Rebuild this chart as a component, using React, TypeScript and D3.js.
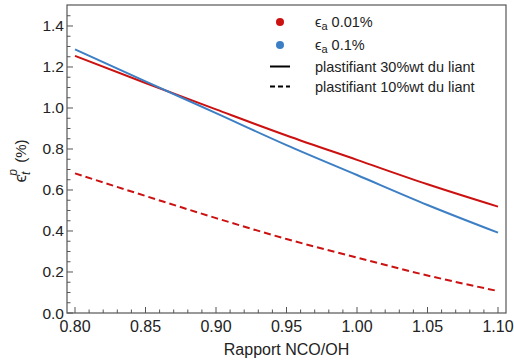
import React from "react";
import * as d3 from "d3";

const ratios = [0.8, 0.85, 0.9, 0.95, 1.0, 1.05, 1.1];
const red30 = [1.254, 1.122, 0.993, 0.866, 0.747, 0.628, 0.519];
const blue30 = [1.286, 1.13, 0.975, 0.819, 0.673, 0.527, 0.392];
const red10 = [0.681, 0.571, 0.463, 0.361, 0.27, 0.183, 0.107];
const xTicks = [0.8, 0.85, 0.9, 0.95, 1.0, 1.05, 1.1];
const yTicks = [0, 0.2, 0.4, 0.6, 0.8, 1.0, 1.2, 1.4];

const RED = "#cc1111";
const BLUE = "#3d7fc4";
const FONT = "Liberation Sans, Arial, sans-serif";

export default function App() {
  const W = 514, H = 363;
  const L = 67, R = 506, T = 5, B = 313;
  const x = d3.scaleLinear().domain([0.8 - 8 / 1410, 1.1 + 8 / 1410]).range([L, R]);
  const y = d3.scaleLinear().domain([0, 1.5024]).range([B, T]);
  const line = d3
    .line<number>()
    .x((_, i) => x(ratios[i]))
    .y((d) => y(d))
    .curve(d3.curveMonotoneX);

  const xMinor = d3.range(80, 111, 1).map((v) => v / 100).filter((v) => Math.round(v * 100) % 5 !== 0);
  const yMinor = d3.range(0, 31, 1).map((v) => v * 0.05).filter((v, i) => i % 4 !== 0);

  return (
    <svg width={W} height={H} style={{ position: "absolute", left: 0, top: 0 }} fontFamily={FONT}>
      <rect x={0} y={0} width={W} height={H} fill="#fff" />
      {xTicks.map((t) => (
        <line key={"xt" + t} x1={x(t)} x2={x(t)} y1={B} y2={B - 6} stroke="#555" strokeWidth={1} />
      ))}
      {xMinor.map((t) => (
        <line key={"xm" + t} x1={x(t)} x2={x(t)} y1={B} y2={B - 3.5} stroke="#555" strokeWidth={1} />
      ))}
      {yTicks.map((t) => (
        <line key={"yt" + t} x1={L} x2={L + 6} y1={y(t)} y2={y(t)} stroke="#555" strokeWidth={1} />
      ))}
      {yMinor.filter((t) => y(t) > T + 1).map((t) => (
        <line key={"ym" + t} x1={L} x2={L + 3.5} y1={y(t)} y2={y(t)} stroke="#555" strokeWidth={1} />
      ))}
      <rect x={L} y={T} width={R - L} height={B - T} fill="none" stroke="#555" strokeWidth={1.2} />
      {xTicks.map((t) => (
        <text key={"xl" + t} x={x(t)} y={B + 19} textAnchor="middle" fontSize={16} fill="#222">
          {t.toFixed(2)}
        </text>
      ))}
      {yTicks.map((t) => (
        <text key={"yl" + t} x={L - 3} y={y(t) + 5.5} textAnchor="end" fontSize={15.5} fill="#222">
          {t.toFixed(1)}
        </text>
      ))}
      <text x={(L + R) / 2} y={355} textAnchor="middle" fontSize={16} fill="#222">
        Rapport NCO/OH
      </text>
      <text transform={`translate(26,${(T + B) / 2 + 2}) rotate(-90)`} textAnchor="middle" fontSize={17} fill="#222">
        <tspan>ϵ</tspan>
        <tspan fontSize={12} fontStyle="italic" dy={4}>t</tspan>
        <tspan fontSize={12} fontStyle="italic" dx={-4} dy={-13}>p</tspan>
        <tspan fontSize={15} dx={2} dy={9}> (%)</tspan>
      </text>
      <path d={line(red30) || ""} fill="none" stroke={RED} strokeWidth={2} />
      <path d={line(blue30) || ""} fill="none" stroke={BLUE} strokeWidth={2} />
      <path d={line(red10) || ""} fill="none" stroke={RED} strokeWidth={2} strokeDasharray="7,4" />
      <g fontSize={14.5} fill="#222">
        <circle cx={280} cy={22} r={4} fill={RED} />
        <text x={315} y={27}>
          <tspan>ϵ</tspan>
          <tspan fontSize={11} dy={3}>a</tspan>
          <tspan dy={-3}> 0.01%</tspan>
        </text>
        <circle cx={280} cy={45} r={4} fill={BLUE} />
        <text x={315} y={50}>
          <tspan>ϵ</tspan>
          <tspan fontSize={11} dy={3}>a</tspan>
          <tspan dy={-3}> 0.1%</tspan>
        </text>
        <line x1={270} x2={290} y1={66.5} y2={66.5} stroke="#000" strokeWidth={2} />
        <text x={315} y={72}>plastifiant 30%wt du liant</text>
        <line x1={270} x2={290} y1={86.5} y2={86.5} stroke="#000" strokeWidth={2} strokeDasharray="5,3" />
        <text x={315} y={92}>plastifiant 10%wt du liant</text>
      </g>
    </svg>
  );
}
